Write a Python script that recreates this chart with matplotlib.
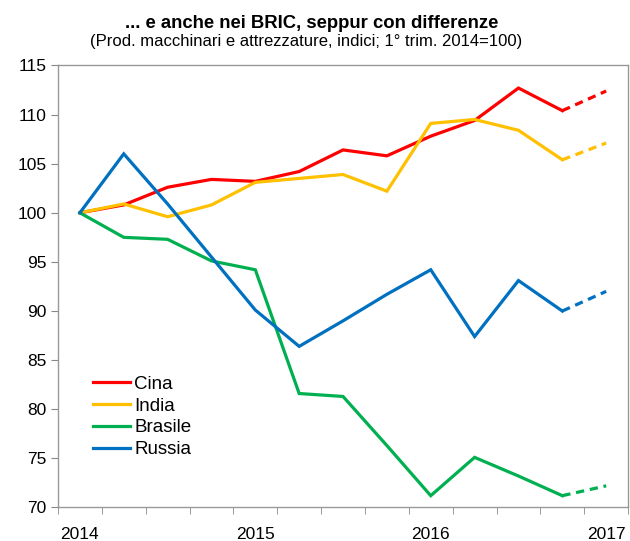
import numpy as np
import matplotlib
matplotlib.use("Agg")
import matplotlib.pyplot as plt

plt.rcParams['font.family'] = ['Liberation Sans', 'DejaVu Sans']

# trimestri 2014 Q1 .. 2017 Q1
year_labels = ["2014", "", "", "", "2015", "", "", "", "2016", "", "", "", "2017"]

cina = [100, 100.8, 102.6, 103.4, 103.2, 104.2, 106.4, 105.8, 107.8, 109.4, 112.7, 110.4, 112.4]
india = [100, 100.9, 99.6, 100.8, 103.1, 103.5, 103.9, 102.2, 109.1, 109.5, 108.4, 105.4, 107.1]
brasile = [100, 97.5, 97.3, 95.1, 94.2, 81.6, 81.3, 76.3, 71.2, 75.1, 73.2, 71.2, 72.2]
russia = [100, 106.0, 100.9, 95.5, 90.1, 86.4, 89.0, 91.7, 94.2, 87.4, 93.1, 90.0, 92.0]

series = [("Cina", cina, "#FF0000"),
          ("India", india, "#FFC000"),
          ("Brasile", brasile, "#00B050"),
          ("Russia", russia, "#0070C0")]

fig = plt.figure(figsize=(6.3, 5.41), dpi=100)
ax = fig.add_axes([0.092, 0.062, 0.905, 0.817])

x = np.arange(len(year_labels))
handles = []
for name, vals, col in series:
    h, = ax.plot(x[:12], vals[:12], color=col, lw=2.3, label=name, solid_joinstyle='miter')
    ax.plot(x[11:], vals[11:], color=col, lw=2.3, dashes=(2.6, 1.8))
    handles.append(h)

ax.set_xlim(-0.5, 12.5)
ax.set_ylim(70, 115)
ax.set_yticks(np.arange(70, 116, 5))

# x: etichette al centro delle categorie, tacche tra le categorie
ax.set_xticks(x)
ax.set_xticklabels(year_labels)
ax.tick_params(axis='x', which='major', length=0, labelsize=12.5, pad=14)
ax.set_xticks(np.arange(-0.5, 13, 1), minor=True)
ax.tick_params(axis='x', which='minor', length=5, color='#888888', direction='out')
ax.tick_params(axis='y', length=5, color='#888888', labelsize=12.5, pad=3)

for s in ax.spines.values():
    s.set_color('#999999')
    s.set_linewidth(1)

ax.legend(handles=handles, loc='upper left', bbox_to_anchor=(0.048, 0.315),
          frameon=False, fontsize=13.5, handlelength=2.0, handletextpad=0.2,
          labelspacing=0.25, borderaxespad=0)

fig.text(0.494, 0.957, "... e anche nei BRIC, seppur con differenze",
         ha='center', va='center', fontsize=13.3, fontweight='bold')
fig.text(0.486, 0.924, "(Prod. macchinari e attrezzature, indici; 1° trim. 2014=100)",
         ha='center', va='center', fontsize=12)

fig.savefig("out.png", dpi=100)
